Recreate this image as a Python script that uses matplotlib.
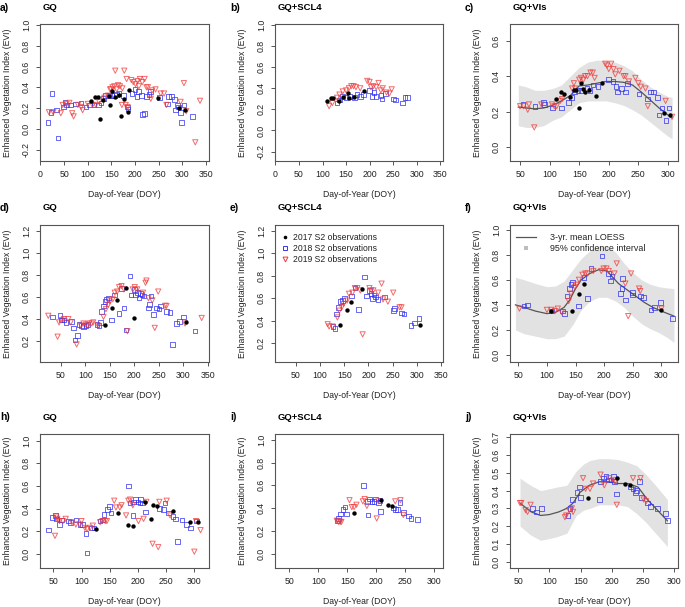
import matplotlib
matplotlib.use('Agg')
import matplotlib.pyplot as plt
from matplotlib.lines import Line2D

plt.rcParams['font.family'] = ['Liberation Sans', 'DejaVu Sans']

# ---- datos: (DOY, EVI) por año y panel ----
# fila 1
a17 = [(107,.27),(116,.31),(122,.31),(126,.09),(133,.28),(144,.32),(147,.23),(152,.36),(157,.31),(165,.33),
       (171,.12),(177,.29),(184,.16),(187,.37),(248,.30),(292,.20),(305,.18)]
a18 = [(16,.06),(22,.16),(24,.34),(34,.18),(37,-.09),(49,.21),(52,.26),(55,.23),(64,.23),(74,.24),(86,.25),
       (96,.21),(103,.23),(113,.23),(122,.23),(128,.25),(133,.29),(138,.32),(145,.32),(151,.32),(156,.32),
       (161,.33),(166,.34),(175,.32),(184,.21),(185,.19),(193,.34),(200,.38),(204,.31),(207,.36),(213,.32),
       (215,.14),(220,.15),(224,.31),(229,.33),(233,.36),(252,.30),(268,.24),(271,.31),(277,.31),(283,.28),
       (285,.18),(289,.23),(292,.21),(296,.16),(298,.06),(303,.23),(321,.12)]
a19 = [(18,.16),(27,.16),(43,.15),(47,.23),(55,.24),(61,.25),(67,.15),(70,.12),(79,.23),(86,.21),(89,.18),
       (100,.24),(110,.23),(117,.23),(124,.26),(135,.30),(143,.32),(147,.38),(149,.38),(152,.40),(156,.41),
       (158,.56),(161,.38),(164,.42),(168,.41),(172,.23),(173,.39),(177,.56),(180,.23),(182,.48),(184,.21),
       (192,.47),(196,.45),(201,.43),(205,.46),(208,.41),(210,.48),(215,.45),(220,.48),(224,.40),(227,.40),
       (233,.29),(236,.37),(243,.38),(254,.34),(261,.34),(266,.23),(296,.26),(303,.44),(308,.17),(327,-.13),
       (337,.27)]

b17 = [(109,.28),(119,.31),(123,.31),(135,.28),(143,.32),(154,.36),(157,.31),(166,.32),(189,.37)]
b18 = [(131,.26),(136,.29),(143,.32),(150,.31),(157,.32),(168,.31),(173,.34),(181,.32),(187,.34),(200,.38),
       (205,.32),(209,.36),(214,.32),(224,.33),(226,.30),(234,.35),(251,.30),(255,.29),(270,.26),(275,.31),
       (281,.31)]
b19 = [(114,.23),(121,.26),(131,.31),(136,.34),(143,.37),(150,.38),(156,.40),(161,.42),(166,.42),(171,.41),
       (180,.40),(195,.47),(200,.46),(203,.41),(208,.42),(214,.41),(219,.45),(224,.38),(228,.40),(236,.36),
       (242,.35),(247,.39)]

c17 = [(111,.27),(120,.31),(124,.30),(135,.28),(142,.32),(145,.32),(149,.22),(153,.36),(156,.33),(159,.31),
       (166,.32),(179,.29),(189,.36),(293,.19),(304,.18)]
c18 = [(55,.24),(75,.23),(90,.25),(91,.24),(105,.22),(120,.22),(132,.25),(137,.28),(142,.31),(148,.32),
       (153,.32),(163,.33),(168,.32),(173,.35),(182,.34),(200,.38),(207,.37),(212,.34),(215,.31),(222,.33),
       (228,.31),(232,.36),(251,.30),(265,.27),(271,.31),(276,.31),(282,.28),(285,.18),(290,.22),(297,.15),
       (302,.22)]
c19 = [(50,.23),(56,.23),(63,.21),(65,.24),(74,.11),(86,.24),(104,.24),(108,.23),(112,.23),(118,.26),
       (121,.27),(138,.33),(141,.36),(143,.33),(150,.38),(153,.39),(157,.38),(160,.40),(164,.40),(169,.42),
       (173,.42),(176,.39),(194,.47),(197,.46),(200,.44),(204,.47),(208,.44),(211,.41),(218,.43),(225,.40),
       (228,.40),(234,.37),(245,.39),(250,.36),(254,.34),(262,.33),(266,.23),(296,.26),(307,.17)]
c_band_doy = [47, 60, 75, 90, 105, 120, 135, 150, 165, 180, 195, 210, 225, 240, 255, 270, 285, 300, 307]
c_band_hi = [.35, .34, .32, .32, .33, .35, .40, .45, .48, .49, .49, .48, .46, .43, .38, .34, .31, .285, .28]
c_band_lo = [.12, .11, .11, .12, .15, .17, .21, .25, .26, .26, .26, .25, .235, .21, .18, .14, .10, .06, .045]
c_line_doy = [47, 60, 75, 90, 105, 120, 135, 150, 165, 180, 195, 210, 225, 240, 255, 270, 285, 300, 307]
c_line = [.225, .22, .215, .22, .235, .26, .29, .345, .35, .36, .37, .37, .365, .35, .31, .265, .22, .18, .165]

# fila 2
d17 = [(140,.35),(154,.50),(164,.57),(183,.68),(200,.41),(305,.37)]
d18 = [(32,.42),(48,.43),(51,.39),(56,.39),(60,.37),(72,.38),(75,.32),(79,.21),(84,.25),(87,.35),(92,.34),
       (96,.33),(101,.34),(105,.35),(124,.35),(128,.34),(131,.37),(133,.47),(137,.52),(140,.56),(143,.58),
       (147,.59),(154,.39),(160,.62),(169,.45),(174,.68),(179,.50),(183,.30),(191,.79),(193,.62),(200,.67),
       (203,.62),(207,.64),(210,.59),(213,.63),(216,.62),(220,.61),(229,.50),(231,.53),(234,.61),(239,.44),
       (246,.50),(251,.49),(254,.52),(266,.47),(273,.46),(278,.17),(287,.36),(293,.38),(301,.42),(324,.29)]
d19 = [(24,.43),(43,.24),(46,.37),(51,.39),(56,.40),(65,.40),(70,.37),(82,.17),(91,.34),(96,.36),(101,.35),
       (104,.34),(108,.36),(113,.36),(116,.37),(126,.34),(137,.42),(142,.49),(147,.53),(150,.56),(156,.58),
       (160,.64),(165,.65),(169,.69),(174,.70),(179,.67),(186,.29),(197,.67),(201,.69),(206,.67),(218,.64),
       (223,.73),(225,.75),(229,.59),(237,.57),(242,.32),(249,.65),(263,.52),(266,.52),(304,.36),(338,.41)]

e17 = [(141,.36),(155,.50),(165,.57),(186,.68),(307,.36)]
e18 = [(127,.35),(131,.33),(134,.46),(138,.52),(142,.57),(147,.58),(151,.60),(165,.62),(172,.69),(179,.50),
       (192,.79),(196,.62),(202,.67),(205,.64),(208,.60),(211,.63),(215,.61),(220,.59),(233,.61),(251,.49),
       (254,.51),(268,.47),(273,.46),(288,.36),(295,.38),(304,.42)]
e19 = [(116,.37),(119,.35),(126,.35),(136,.43),(140,.49),(145,.52),(149,.55),(156,.58),(160,.64),(167,.65),
       (172,.69),(177,.69),(183,.67),(188,.28),(202,.69),(206,.67),(210,.67),(220,.65),(227,.73),(230,.59),
       (240,.57),(251,.65),(264,.52),(268,.52)]

f17 = [(108,.35),(143,.35),(156,.49),(165,.57),(300,.36)]
f18 = [(60,.39),(66,.40),(108,.35),(127,.35),(131,.33),(135,.47),(139,.53),(142,.56),(145,.58),(155,.39),
       (165,.62),(171,.45),(177,.69),(196,.79),(208,.65),(211,.59),(214,.63),(229,.49),(231,.53),(232,.61),
       (237,.44),(249,.50),(250,.48),(263,.47),(269,.46),(282,.36),(288,.38),(298,.42),(319,.29)]
f19 = [(52,.37),(100,.36),(108,.36),(114,.35),(119,.37),(126,.34),(138,.43),(142,.49),(149,.54),(152,.56),
       (156,.60),(162,.64),(167,.65),(171,.65),(181,.67),(195,.67),(199,.69),(204,.69),(208,.67),(218,.65),
       (222,.73),(237,.57),(242,.31),(247,.65),(261,.53),(263,.51),(300,.37)]
f_band_doy = [45, 60, 80, 100, 115, 130, 145, 160, 175, 190, 205, 220, 235, 250, 265, 280, 295, 310, 322]
f_band_hi = [.62, .60, .57, .545, .55, .59, .68, .77, .83, .87, .87, .82, .73, .66, .60, .565, .545, .535, .53]
f_band_lo = [.20, .17, .15, .13, .13, .15, .24, .36, .43, .46, .46, .43, .38, .31, .25, .21, .18, .14, .10]
f_line_doy = [45, 60, 80, 100, 115, 130, 140, 150, 160, 175, 190, 205, 215, 225, 240, 255, 270, 285, 300, 322]
f_line = [.40, .38, .35, .33, .34, .38, .44, .53, .60, .65, .68, .67, .62, .57, .52, .47, .42, .38, .35, .31]

# fila 3
h17 = [(126,.22),(165,.36),(183,.26),(192,.25),(213,.46),(223,.31),(226,.43),(233,.42),(263,.38),(292,.28),
       (307,.28)]
h18 = [(41,.21),(49,.32),(54,.34),(56,.31),(61,.26),(65,.30),(77,.29),(81,.28),(90,.30),(97,.26),(102,.26),
       (108,.18),(110,.01),(118,.23),(122,.23),(133,.29),(137,.30),(140,.35),(146,.39),(150,.42),(152,.36),
       (183,.60),(186,.45),(191,.34),(192,.46),(196,.48),(200,.46),(204,.45),(205,.48),(208,.45),(213,.37),
       (238,.40),(245,.39),(248,.45),(254,.36),(262,.33),(267,.31),(270,.11),(278,.30),(286,.26),(293,.23),
       (304,.29)]
h19 = [(53,.16),(55,.33),(57,.31),(61,.29),(67,.29),(72,.31),(83,.28),(90,.26),(97,.26),(100,.29),(106,.23),
       (110,.22),(115,.23),(120,.25),(133,.28),(137,.29),(142,.29),(145,.29),(158,.47),(161,.41),(168,.41),
       (171,.43),(179,.34),(183,.47),(186,.48),(191,.43),(201,.29),(210,.31),(215,.46),(226,.09),(236,.06),
       (238,.46),(251,.47),(257,.34),(300,.02),(303,.29),(311,.21)]

i17 = [(162,.36),(208,.47),(220,.43),(227,.42)]
i18 = [(133,.29),(135,.31),(138,.35),(143,.39),(146,.41),(149,.35),(178,.60),(185,.46),(186,.34),(189,.48),
       (193,.46),(196,.46),(199,.48),(204,.45),(207,.47),(208,.37),(230,.40),(233,.39),(237,.39),(241,.45),
       (247,.36),(256,.33),(260,.31),(271,.30)]
i19 = [(132,.29),(135,.28),(138,.28),(140,.28),(154,.47),(158,.41),(162,.41),(166,.43),(177,.46),(180,.48),
       (184,.42),(201,.31),(204,.46),(233,.46),(242,.47),(247,.34)]

j17 = [(162,.36),(209,.47),(221,.44),(229,.43)]
j18 = [(73,.30),(79,.28),(87,.30),(130,.26),(133,.30),(137,.35),(144,.39),(148,.42),(150,.36),(180,.35),
       (182,.45),(187,.47),(191,.48),(195,.46),(199,.46),(203,.48),(204,.45),(208,.38),(230,.42),(234,.41),
       (238,.39),(240,.40),(244,.45),(248,.36),(257,.33),(262,.31),(273,.30),(286,.27),(289,.23)]
j19 = [(53,.33),(55,.33),(62,.29),(65,.28),(70,.32),(125,.25),(127,.26),(132,.29),(136,.30),(138,.28),
       (154,.47),(158,.41),(165,.41),(170,.44),(182,.49),(188,.43),(196,.47),(203,.46),(205,.45),(208,.32),
       (234,.47),(246,.47),(251,.35),(255,.34)]
j_band_doy = [53, 70, 86, 100, 112, 128, 143, 155, 165, 180, 195, 210, 225, 240, 255, 270, 289]
j_band_hi = [.47, .43, .40, .41, .42, .43, .51, .55, .57, .58, .58, .575, .56, .54, .49, .43, .35]
j_band_lo = [.20, .15, .12, .13, .14, .16, .26, .29, .30, .32, .32, .32, .31, .27, .22, .16, .085]
j_line_doy = [53, 60, 71, 86, 100, 115, 128, 138, 149, 164, 180, 195, 211, 226, 242, 257, 273, 289]
j_line = [.33, .31, .28, .26, .265, .28, .30, .33, .39, .43, .45, .45, .44, .44, .42, .35, .29, .23]

# ---- geometría (pixeles) ----
W, H = 685, 607
cols = [(40, 209), (275, 443), (510, 678)]
rows = [(24, 161), (225, 362), (434, 568)]
AX = '#555555'
TXT = '#222222'
BLUE = '#3535f0'
RED = '#f03a3a'


def axes_px(l, r, t, b):
    return [l / W, 1 - b / H, (r - l) / W, (b - t) / H]


def scatter_years(ax, p17, p18, p19):
    ax.scatter([p[0] for p in p18], [p[1] for p in p18], s=11, marker='s', facecolors='none',
               edgecolors=BLUE, linewidths=0.7, alpha=0.75, zorder=3)
    ax.scatter([p[0] for p in p19], [p[1] for p in p19], s=14, marker='v', facecolors='none',
               edgecolors=RED, linewidths=0.7, alpha=0.75, zorder=3)
    ax.scatter([p[0] for p in p17], [p[1] for p in p17], s=10, marker='o', color='black',
               linewidths=0, zorder=4)


def make_panel(col, row, letter, title, xlim, ylim, xticks, yticks):
    l, r = cols[col]
    t, b = rows[row]
    ax = fig.add_axes(axes_px(l, r, t, b))
    ax.set_xlim(*xlim)
    ax.set_ylim(*ylim)
    ax.set_xticks(xticks)
    ax.set_yticks(yticks)
    ax.set_yticklabels(['%.1f' % v for v in yticks], rotation=90, va='center')
    ax.tick_params(length=3, width=0.7, color=AX, labelsize=6.3, labelcolor=TXT, pad=3.5)
    for s in ax.spines.values():
        s.set_color(AX)
        s.set_linewidth(0.8)
    ax.set_xlabel('Day-of-Year (DOY)', fontsize=6.2, color=TXT, labelpad=8)
    ax.set_ylabel('Enhanced Vegetation Index (EVI)', fontsize=6.2, color=TXT, labelpad=7)
    ty = (t - 16) if row == 0 else (t - 17)
    fig.text((l - 40 + (0 if col == 0 else -5)) / W, 1 - max(ty, 7) / H, letter, fontsize=7.5,
             fontweight='bold', ha='left', va='center', color='black')
    fig.text((l + 3) / W, 1 - max(ty, 7) / H, title, fontsize=6.8, fontweight='bold',
             ha='left', va='center', color='black')
    return ax


fig = plt.figure(figsize=(W / 100, H / 100), dpi=100)

# a) b) c)
ax = make_panel(0, 0, 'a)', 'GQ', (-1, 356), (-0.31, 1.01), range(0, 351, 50), [-0.2, 0, 0.2, 0.4, 0.6, 0.8, 1.0])
scatter_years(ax, a17, a18, a19)
ax = make_panel(1, 0, 'b)', 'GQ+SCL4', (-1, 356), (-0.29, 1.01), range(0, 351, 50), [-0.2, 0, 0.2, 0.4, 0.6, 0.8, 1.0])
scatter_years(ax, b17, b18, b19)
ax = make_panel(2, 0, 'c)', 'GQ+VIs', (33, 317), (-0.08, 0.695), range(50, 301, 50), [0, 0.2, 0.4, 0.6])
ax.fill_between(c_band_doy, c_band_lo, c_band_hi, color='#e2e2e2', lw=0, zorder=1)
ax.plot(c_line_doy, c_line, color='#555555', lw=0.9, zorder=2)
scatter_years(ax, c17, c18, c19)

# d) e) f)
ax = make_panel(0, 1, 'd)', 'GQ', (7, 353), (0.01, 1.255), range(50, 351, 50), [0.2, 0.4, 0.6, 0.8, 1.0, 1.2])
scatter_years(ax, d17, d18, d19)
ax = make_panel(1, 1, 'e)', 'GQ+SCL4', (7.5, 353.5), (0.035, 1.25), range(50, 351, 50), [0.2, 0.4, 0.6, 0.8, 1.0, 1.2])
scatter_years(ax, e17, e18, e19)
h1 = Line2D([], [], marker='o', ls='none', color='black', markersize=2.6, markeredgewidth=0)
h2 = Line2D([], [], marker='s', ls='none', markerfacecolor='none', markeredgecolor=BLUE, markersize=3, markeredgewidth=0.7)
h3 = Line2D([], [], marker='v', ls='none', markerfacecolor='none', markeredgecolor=RED, markersize=3.5, markeredgewidth=0.7)
ax.legend([h1, h2, h3], ['2017 S2 observations', '2018 S2 observations', '2019 S2 observations'],
          loc='upper left', bbox_to_anchor=(-0.01, 1.0), frameon=False, fontsize=6.2, handlelength=0.8,
          handletextpad=0.6, labelspacing=0.25, borderpad=0.4, labelcolor=TXT)
ax = make_panel(2, 1, 'f)', 'GQ+VIs', (35.5, 329), (-0.056, 1.037), range(50, 301, 50), [0, 0.2, 0.4, 0.6, 0.8, 1.0])
ax.fill_between(f_band_doy, f_band_lo, f_band_hi, color='#e2e2e2', lw=0, zorder=1)
ax.plot(f_line_doy, f_line, color='#555555', lw=0.9, zorder=2)
scatter_years(ax, f17, f18, f19)
g1 = Line2D([], [], color='#555555', lw=0.9)
g2 = Line2D([], [], marker='s', ls='none', color='#bdbdbd', markersize=2.5, markeredgewidth=0)
ax.legend([g1, g2], ['3-yr. mean LOESS', '95% confidence interval'], loc='upper left',
          bbox_to_anchor=(-0.01, 1.0), frameon=False, fontsize=6.4, handlelength=2.2,
          handletextpad=1.6, labelspacing=0.2, borderpad=0.4, labelcolor=TXT)

# h) i) j)
ax = make_panel(0, 2, 'h)', 'GQ', (26.4, 326), (-0.124, 1.059), range(50, 301, 50), [0, 0.2, 0.4, 0.6, 0.8, 1.0])
scatter_years(ax, h17, h18, h19)
ax = make_panel(1, 2, 'i)', 'GQ+SCL4', (25.3, 315.5), (-0.124, 1.05), range(50, 301, 50), [0, 0.2, 0.4, 0.6, 0.8, 1.0])
scatter_years(ax, i17, i18, i19)
ax = make_panel(2, 2, 'j)', 'GQ+VIs', (37, 306), (-0.036, 0.719), range(50, 301, 50), [0, 0.1, 0.2, 0.3, 0.4, 0.5, 0.6, 0.7])
ax.fill_between(j_band_doy, j_band_lo, j_band_hi, color='#e2e2e2', lw=0, zorder=1)
ax.plot(j_line_doy, j_line, color='#555555', lw=0.9, zorder=2)
scatter_years(ax, j17, j18, j19)

fig.savefig('out.png', dpi=100)
